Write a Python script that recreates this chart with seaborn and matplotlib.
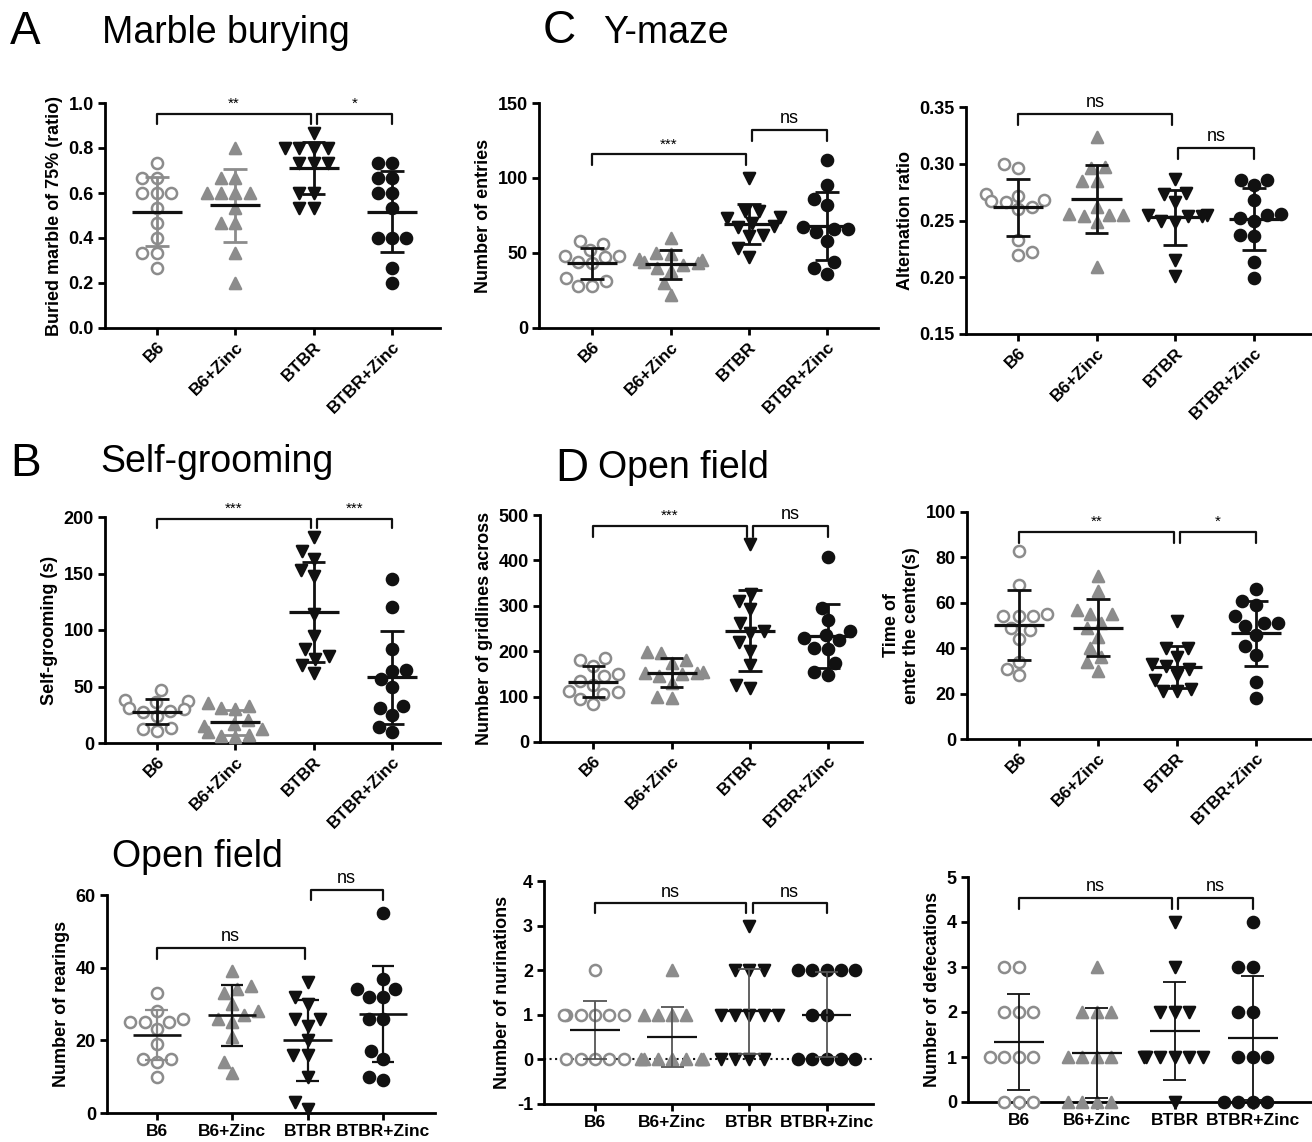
import numpy as np
import pandas as pd
import matplotlib
matplotlib.use('Agg')
import matplotlib.pyplot as plt
import seaborn as sns
import warnings
warnings.filterwarnings('ignore')

# ---------------- data ----------------
groups = ['B6', 'B6+Zinc', 'BTBR', 'BTBR+Zinc']

marble = [
    [0.733, 0.667, 0.667, 0.600, 0.600, 0.600, 0.533, 0.467, 0.400, 0.333, 0.333, 0.267],
    [0.800, 0.667, 0.667, 0.600, 0.600, 0.600, 0.600, 0.533, 0.467, 0.467, 0.333, 0.200],
    [0.867, 0.800, 0.800, 0.800, 0.800, 0.733, 0.733, 0.733, 0.600, 0.600, 0.533, 0.533],
    [0.733, 0.733, 0.667, 0.667, 0.600, 0.600, 0.533, 0.400, 0.400, 0.400, 0.267, 0.200],
]
entries = [
    [58, 56, 52, 48, 48, 47, 44, 43, 33, 31, 28, 28],
    [60, 50, 49, 46, 45, 44, 43, 42, 40, 38, 30, 22],
    [100, 78, 78, 74, 73, 70, 68, 67, 62, 61, 53, 47],
    [112, 95, 86, 82, 67, 66, 66, 64, 58, 44, 40, 36],
]
alternation = [
    [0.300, 0.296, 0.273, 0.272, 0.268, 0.267, 0.266, 0.262, 0.260, 0.233, 0.222, 0.220],
    [0.324, 0.297, 0.296, 0.285, 0.285, 0.262, 0.256, 0.255, 0.255, 0.254, 0.249, 0.209],
    [0.287, 0.274, 0.273, 0.266, 0.255, 0.255, 0.254, 0.254, 0.250, 0.249, 0.215, 0.201],
    [0.286, 0.286, 0.281, 0.268, 0.256, 0.255, 0.252, 0.250, 0.237, 0.236, 0.213, 0.199],
]
grooming = [
    [47, 38, 37, 36, 31, 30, 28, 27, 24, 13, 12, 11],
    [35, 33, 31, 30, 20, 17, 15, 12, 10, 7, 6, 5],
    [182, 170, 163, 153, 148, 114, 95, 83, 77, 74, 69, 62],
    [145, 120, 83, 65, 64, 57, 50, 33, 31, 25, 14, 10],
]
gridlines = [
    [186, 180, 168, 150, 145, 135, 125, 113, 110, 105, 95, 84],
    [198, 196, 180, 175, 155, 153, 152, 150, 145, 130, 100, 98],
    [436, 325, 310, 292, 262, 245, 240, 220, 200, 170, 125, 118],
    [407, 295, 268, 245, 236, 230, 225, 208, 205, 175, 155, 148],
]
center_time = [
    [83, 68, 55, 54, 54, 54, 49, 48, 44, 34, 31, 28],
    [72, 65, 57, 55, 55, 51, 49, 45, 40, 36, 34, 30],
    [52, 40, 40, 36, 33, 32, 31, 28, 26, 22, 21, 21],
    [66, 61, 59, 54, 51, 51, 50, 46, 41, 37, 25, 18],
]
rearings = [
    [33, 28, 26, 25, 25, 25, 23, 19, 15, 15, 14, 10],
    [39, 35, 34, 33, 30, 28, 27, 26, 25, 21, 14, 11],
    [36, 32, 30, 26, 26, 24, 20, 16, 16, 10, 3, 1],
    [55, 37, 34, 34, 32, 32, 26, 26, 17, 15, 10, 9],
]
urinations = [
    [2, 1, 1, 1, 1, 1, 1, 0, 0, 0, 0, 0],
    [2, 1, 1, 1, 1, 0, 0, 0, 0, 0, 0, 0],
    [3, 2, 2, 2, 1, 1, 1, 1, 1, 0, 0, 0, 0],
    [2, 2, 2, 2, 2, 1, 1, 0, 0, 0, 0, 0],
]
defecations = [
    [3, 3, 2, 2, 2, 1, 1, 1, 1, 0, 0, 0],
    [3, 2, 2, 2, 1, 1, 1, 1, 0, 0, 0, 0],
    [4, 3, 2, 2, 2, 1, 1, 1, 1, 1, 1, 0],
    [4, 3, 3, 2, 2, 1, 1, 1, 0, 0, 0, 0],
]

# ---------------- style ----------------
sns.set_style('ticks')
plt.rcParams['font.family'] = ['Liberation Sans', 'DejaVu Sans']
plt.rcParams.update({
    'axes.linewidth': 2.0,
    'axes.edgecolor': 'black',
    'axes.labelcolor': 'black',
    'text.color': 'black',
    'xtick.color': 'black',
    'ytick.color': 'black',
})

GRAY = '#8c8c8c'
BLACK = '#111111'
markers = ['o', '^', 'v', 'o']
faces = ['white', GRAY, BLACK, BLACK]
edges = [GRAY, GRAY, BLACK, BLACK]

W, H = 1312, 1142
fig = plt.figure(figsize=(W / 100, H / 100), dpi=100)


def px_axes(left, top, right, bottom):
    return fig.add_axes([left / W, 1 - bottom / H, (right - left) / W, (bottom - top) / H])


def bracket(ax, x1, x2, y, tip, text):
    ax.plot([x1, x1, x2, x2], [tip, y, y, tip], color=BLACK, lw=1.6, clip_on=False)
    fs = 13 if text == 'ns' else 11
    ax.annotate(text, xy=((x1 + x2) / 2, y), xytext=(0, 2), textcoords='offset points',
                ha='center', va='bottom', fontsize=fs, annotation_clip=False)


def draw_panel(rect, values, xlim, ylim, yticks, fmt, ylabel, rot, sd_colors, lw, brackets,
               dotted_zero=False):
    ax = px_axes(*rect)
    df = pd.DataFrame({'group': np.repeat(groups, [len(v) for v in values]),
                       'value': np.concatenate(values).astype(float)})
    for g, m, fc, ec in zip(groups, markers, faces, edges):
        sub = df[df['group'] == g]
        sns.swarmplot(data=sub, x='group', y='value', order=groups, marker=m,
                      color=ec, facecolor=fc, edgecolor=ec, linewidth=1.8, size=8,
                      clip_on=False, ax=ax, zorder=3)
    for i, (v, c) in enumerate(zip(values, sd_colors)):
        m = np.mean(v)
        s = np.std(v, ddof=1)
        ax.vlines(i, m - s, m + s, color=c, lw=lw, zorder=4)
        ax.hlines([m - s, m + s], i - 0.15, i + 0.15, color=c, lw=lw, zorder=4)
        ax.hlines(m, i - 0.32, i + 0.32, color=BLACK, lw=lw + 0.3, zorder=4)
    if dotted_zero:
        ax.axhline(0, color=BLACK, ls=':', lw=1.5, zorder=2)
    for b in brackets:
        x1, x2 = b[0], b[1]
        if x2 == 2:
            x2 -= 0.04
        if x1 == 2:
            x1 += 0.04
        bracket(ax, x1, x2, b[2], b[3], b[4])
    ax.set_xlim(*xlim)
    ax.set_ylim(*ylim)
    ax.set_yticks(yticks)
    ax.set_yticklabels([fmt.format(t) for t in yticks], fontweight='bold', fontsize=13)
    ax.set_xticks(range(4))
    if rot:
        ax.set_xticklabels(groups, rotation=45, ha='right', rotation_mode='anchor',
                           fontweight='bold', fontsize=12.5)
    else:
        ax.set_xticklabels(groups, fontweight='bold', fontsize=12.5)
    ax.set_xlabel('')
    ax.set_ylabel(ylabel, fontweight='bold', fontsize=13, labelpad=4, multialignment='center')
    ax.tick_params(width=2, length=5, pad=3)
    sns.despine(ax=ax)
    return ax


thick = [BLACK] * 4

# row 1
draw_panel((105, 103, 440, 328), marble, (-0.66, 3.61), (0, 1.0), np.arange(0, 1.01, 0.2),
           '{:.1f}', 'Buried marble of 75% (ratio)', True, [GRAY, GRAY, BLACK, BLACK], 2.0,
           [(0, 2, 0.953, 0.908, '**'), (2, 3, 0.953, 0.908, '*')])
draw_panel((539, 103, 878, 328), entries, (-0.68, 3.65), (0, 150), [0, 50, 100, 150],
           '{:.0f}', 'Number of entries', True, thick, 2.0,
           [(0, 2, 115.9, 108.6, '***'), (2, 3, 132, 124.8, 'ns')])
draw_panel((966, 107, 1312, 334), alternation, (-0.66, 3.74), (0.15, 0.35),
           [0.15, 0.20, 0.25, 0.30, 0.35], '{:.2f}', 'Alternation ratio', True, thick, 2.0,
           [(0, 2, 0.344, 0.334, 'ns'), (2, 3, 0.314, 0.304, 'ns')])

# row 2
draw_panel((105, 517, 440, 743), grooming, (-0.66, 3.61), (0, 200), [0, 50, 100, 150, 200],
           '{:.0f}', 'Self-grooming (s)', True, [BLACK, GRAY, BLACK, BLACK], 2.0,
           [(0, 2, 198.5, 190, '***'), (2, 3, 198.5, 190, '***')])
draw_panel((540, 515, 862, 742), gridlines, (-0.68, 3.43), (0, 500), [0, 100, 200, 300, 400, 500],
           '{:.0f}', 'Number of gridlines across', True, thick, 2.0,
           [(0, 2, 476, 452, '***'), (2, 3, 476, 452, 'ns')])
draw_panel((967, 512, 1312, 739), center_time, (-0.66, 3.71), (0, 100), [0, 20, 40, 60, 80, 100],
           '{:.0f}', 'Time of\nenter the center(s)', True, thick, 2.0,
           [(0, 2, 91.2, 86.4, '**'), (2, 3, 91.2, 86.4, '*')])

# row 3
draw_panel((107, 895, 435, 1113), rearings, (-0.66, 3.69), (0, 60), [0, 20, 40, 60],
           '{:.0f}', 'Number of rearings', False, [GRAY, BLACK, BLACK, BLACK], 1.6,
           [(0, 2, 45.5, 42.5, 'ns'), (2, 3, 61.4, 58.5, 'ns')])
draw_panel((544, 881, 873, 1104), urinations, (-0.66, 3.6), (-1, 4), [-1, 0, 1, 2, 3, 4],
           '{:.0f}', 'Number of nurinations', False, ['#555555'] * 4, 1.3,
           [(0, 2, 3.5, 3.28, 'ns'), (2, 3, 3.5, 3.28, 'ns')], dotted_zero=True)
draw_panel((968, 877, 1312, 1102), defecations, (-0.65, 3.76), (0, 5), [0, 1, 2, 3, 4, 5],
           '{:.0f}', 'Number of defecations', False, thick, 1.3,
           [(0, 2, 4.54, 4.3, 'ns'), (2, 3, 4.54, 4.3, 'ns')])

# panel letters and titles


def ftext(x, baseline, s, size):
    fig.text(x / W, 1 - baseline / H, s, fontsize=size, va='baseline', ha='left')


ftext(10, 44, 'A', 33)
ftext(102, 43, 'Marble burying', 27)
ftext(543, 43, 'C', 33)
ftext(603, 43, 'Y-maze', 27)
ftext(10, 476, 'B', 33)
ftext(100, 472, 'Self-grooming', 27)
ftext(555, 481, 'D', 33)
ftext(598, 478, 'Open field', 27)
ftext(112, 867, 'Open field', 27)

fig.savefig('out.png', dpi=100)
